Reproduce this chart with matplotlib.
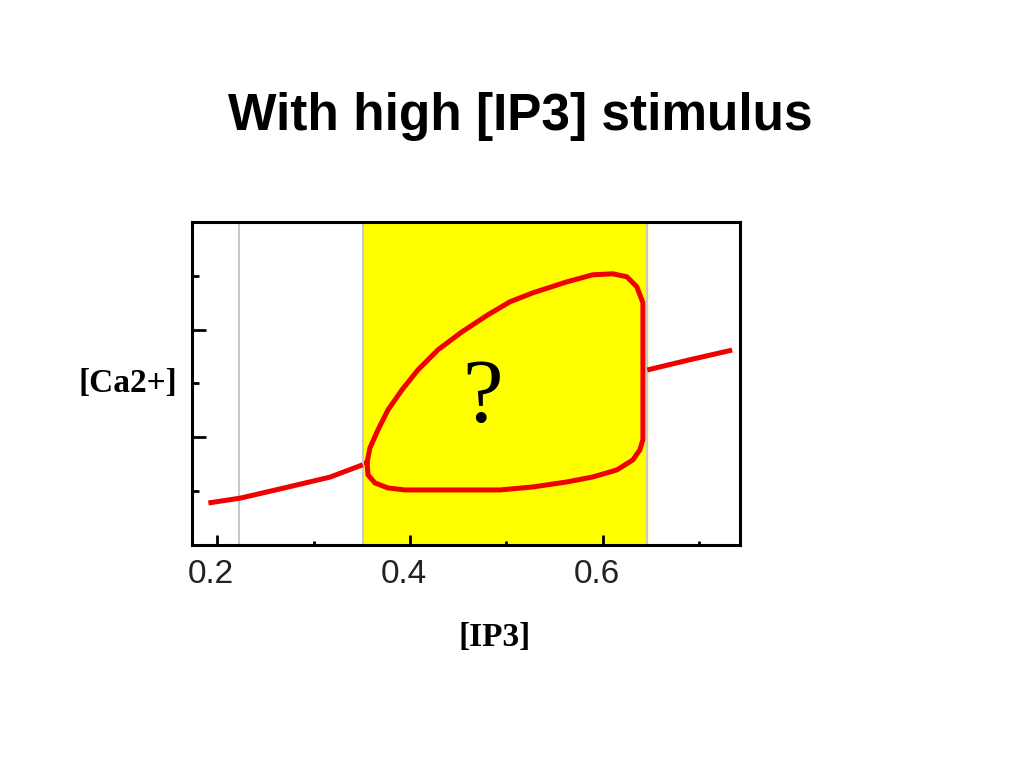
import numpy as np
import matplotlib.pyplot as plt
from matplotlib.transforms import ScaledTranslation

# stable low-Ca branch, below the oscillating window
low_x = [0.191, 0.224, 0.265, 0.317, 0.351]
low_y = [0.078, 0.087, 0.104, 0.126, 0.149]

# stable high-Ca branch, above the window
high_x = [0.646, 0.690, 0.734]
high_y = [0.325, 0.344, 0.362]

# limit cycle (closed loop)
loop_x = [0.3554, 0.3565, 0.3637, 0.3772, 0.3948, 0.4466, 0.4933, 0.5275, 0.5627,
          0.5896, 0.6145, 0.6311, 0.6383, 0.6415, 0.6415, 0.6415, 0.6415, 0.6352,
          0.6249, 0.6104, 0.5896, 0.5627, 0.5275, 0.5036, 0.4808, 0.4539, 0.4290,
          0.4083, 0.3917, 0.3772, 0.3668, 0.3585, 0.3554]
loop_y = [0.1524, 0.1301, 0.1152, 0.1059, 0.1022, 0.1022, 0.1022, 0.1078, 0.1171,
          0.1264, 0.1394, 0.1580, 0.1766, 0.1952, 0.3011, 0.4052, 0.4498, 0.4796,
          0.4981, 0.5037, 0.5019, 0.4888, 0.4684, 0.4517, 0.4275, 0.3959, 0.3625,
          0.3253, 0.2881, 0.2509, 0.2138, 0.1803, 0.1524]

window = (0.351, 0.646)
grey_line = 0.223

fig = plt.figure(figsize=(10.24, 7.68), dpi=100)
ax = fig.add_axes([0.1875, 0.2904, 0.535, 0.4206])

ax.axvspan(window[0], window[1], color='#ffff00', zorder=1)
for xv in [grey_line, window[0], window[1]]:
    ax.axvline(xv, color='#c8c8c8', lw=1.5, zorder=2)

red = '#f00000'
ax.plot(low_x, low_y, color=red, lw=3.6, solid_capstyle='butt', zorder=3)
ax.plot(high_x, high_y, color=red, lw=3.6, solid_capstyle='butt', zorder=3)
ax.plot(loop_x, loop_y, color=red, lw=3.6, solid_joinstyle='round', zorder=3)

ax.text(0.4756, 0.27, '?', fontsize=66, family='Liberation Serif',
        ha='center', va='center', zorder=4)

ax.set_xlim(0.174, 0.742)
ax.set_ylim(0, 0.6)
ax.set_xticks([0.2, 0.4, 0.6])
ax.set_xticklabels(['0.2', '0.4', '0.6'])
ax.set_xticks([0.3, 0.5, 0.7], minor=True)
ax.set_yticks([0.2, 0.4])
ax.set_yticklabels([])
ax.set_yticks([0.1, 0.3, 0.5], minor=True)
ax.tick_params(which='both', direction='in', width=2, top=False, right=False)
ax.tick_params(axis='x', which='major', length=7, labelsize=24, pad=10,
               labelcolor='#222222')
ax.tick_params(axis='x', which='minor', length=3)
ax.tick_params(axis='y', which='major', length=10)
ax.tick_params(axis='y', which='minor', length=5)
for lbl in ax.get_xticklabels():
    lbl.set_family('Liberation Sans')
    lbl.set_transform(lbl.get_transform() + ScaledTranslation(-6 / 100, 0, fig.dpi_scale_trans))
for sp in ax.spines.values():
    sp.set_linewidth(2.2)

fig.text(0.508, 0.848, 'With high [IP3] stimulus', fontsize=37, fontweight='bold',
         family='Liberation Sans', ha='center', va='center')
fig.text(0.125, 0.5, '[Ca2+]', fontsize=24, fontweight='bold',
         family='Liberation Serif', ha='center', va='center')
fig.text(0.483, 0.17, '[IP3]', fontsize=24, fontweight='bold',
         family='Liberation Serif', ha='center', va='center')

fig.savefig('out.png', dpi=100)
